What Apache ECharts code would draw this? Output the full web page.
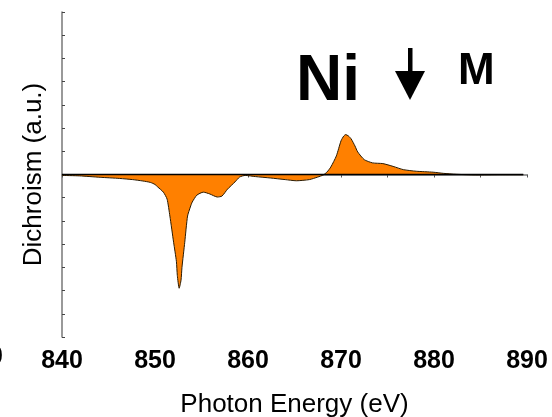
<!DOCTYPE html>
<html><head><meta charset="utf-8">
<script src="https://cdn.jsdelivr.net/npm/echarts@6/dist/echarts.min.js"></script>
<style>html,body{margin:0;padding:0;background:#fff}#c{width:552px;height:417px}</style>
</head><body><div id="c"></div>
<script>
var energies = [840.0,841.9,844.1,846.2,847.6,848.7,849.5,850.0,850.3,850.9,851.3,851.6,852.0,852.3,852.4,852.6,852.8,852.9,853.2,853.5,853.8,854.0,854.5,855.2,855.9,856.7,857.2,857.8,858.6,859.1,859.7,860.8,862.4,864.0,865.2,866.6,867.5,868.1,868.5,868.9,869.5,870.0,870.3,870.5,870.8,871.1,871.5,871.8,872.5,873.4,874.5,875.6,876.7,878.1,879.9,881.0,882.4,884.5,887.1,889.6];
var dichroism = [-0.04,-0.06,-0.12,-0.17,-0.22,-0.28,-0.34,-0.43,-0.54,-0.76,-1.06,-1.79,-2.92,-3.74,-4.35,-4.90,-4.55,-4.00,-2.92,-1.79,-1.40,-1.19,-0.89,-0.76,-0.84,-0.97,-0.93,-0.63,-0.32,-0.11,-0.04,-0.09,-0.15,-0.22,-0.27,-0.22,-0.11,-0.02,0.11,0.32,0.80,1.45,1.66,1.72,1.66,1.53,1.23,0.97,0.64,0.50,0.47,0.35,0.21,0.14,0.10,0.05,0.01,-0.02,-0.01,-0.01];
var xTicks = [840,850,860,870,880,890];

var chart = echarts.init(document.getElementById('c'));
var pts = energies.map(function(e,i){return [e, dichroism[i]];});
var base = [[energies[0],0],[energies[energies.length-1],0]];
var font = 'Arial, "Liberation Sans", sans-serif';
chart.setOption({
  animation:false,
  grid:{left:62,right:25,top:12,bottom:80,containLabel:false,outerBoundsMode:'none'},
  xAxis:{type:'value',min:840,max:890,interval:10,
    name:'Photon Energy (eV)',nameLocation:'middle',nameGap:55,
    nameTextStyle:{fontFamily:font,fontSize:26,color:'#000'},
    axisLine:{lineStyle:{color:'#777',width:1.5}},
    axisTick:{show:true,length:3,inside:false,lineStyle:{color:'#555'}},
    minorTick:{show:true,splitNumber:2,length:3,lineStyle:{color:'#555'}},
    splitLine:{show:false},
    axisLabel:{fontFamily:font,fontSize:25,fontWeight:'bold',color:'#000',margin:12,
      formatter:function(v){return xTicks.indexOf(v)>=0?String(v):'';}}
  },
  yAxis:{type:'value',min:-7,max:7,interval:1,
    name:'Dichroism (a.u.)',nameLocation:'middle',nameGap:15,
    nameTextStyle:{fontFamily:font,fontSize:26,color:'#000'},
    axisLine:{show:true,lineStyle:{color:'#777',width:1.5}},
    axisTick:{show:true,length:3,inside:true,lineStyle:{color:'#444'}},
    axisLabel:{show:false},
    splitLine:{show:false}
  },
  series:[
    {type:'line',data:pts,symbol:'none',smooth:0.2,
     lineStyle:{color:'#2a1a00',width:1},
     areaStyle:{color:'#ff8000',opacity:1,origin:0},z:2},
    {type:'line',data:base,symbol:'none',
     lineStyle:{color:'#000',width:1.5},z:3}
  ],
  graphic:[
    {type:'text',left:-11,top:345,style:{text:'0',font:'bold 25px '+font,fill:'#000'}},
    {type:'text',x:296,y:50,style:{text:'Ni',font:'bold 64px '+font,fill:'#000'}},
    {type:'text',x:458,y:50,style:{text:'M',font:'bold 44px '+font,fill:'#000'}},
    {type:'rect',shape:{x:408,y:48,width:4.5,height:24},style:{fill:'#000'}},
    {type:'polygon',shape:{points:[[395,71],[425,71],[410,100]]},style:{fill:'#000'}}
  ]
});
</script></body></html>
